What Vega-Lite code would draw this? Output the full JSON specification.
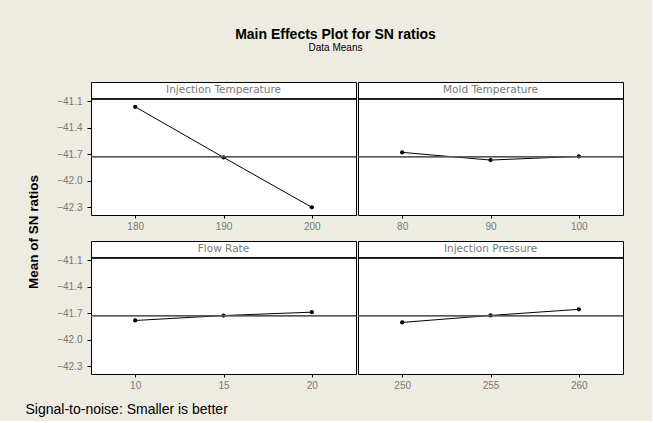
{
  "$schema": "https://vega.github.io/schema/vega-lite/v6.json",
  "background": "#EEEBE2",
  "padding": {"left": 25, "top": 27, "right": 28, "bottom": 4},
  "data": {
    "values": [
      {"factor": "Injection Temperature", "level": 180, "mean": -41.165},
      {"factor": "Injection Temperature", "level": 190, "mean": -41.738},
      {"factor": "Injection Temperature", "level": 200, "mean": -42.303},
      {"factor": "Mold Temperature", "level": 80, "mean": -41.681},
      {"factor": "Mold Temperature", "level": 90, "mean": -41.768},
      {"factor": "Mold Temperature", "level": 100, "mean": -41.726},
      {"factor": "Flow Rate", "level": 10, "mean": -41.784},
      {"factor": "Flow Rate", "level": 15, "mean": -41.728},
      {"factor": "Flow Rate", "level": 20, "mean": -41.69},
      {"factor": "Injection Pressure", "level": 250, "mean": -41.806},
      {"factor": "Injection Pressure", "level": 255, "mean": -41.727},
      {"factor": "Injection Pressure", "level": 260, "mean": -41.658}
    ]
  },
  "title": {
    "text": "Main Effects Plot for SN ratios",
    "subtitle": "Data Means",
    "anchor": "middle",
    "dx": 11,
    "font": "Liberation Sans",
    "fontSize": 14,
    "fontWeight": "bold",
    "color": "black",
    "subtitleFont": "Liberation Sans",
    "subtitleFontSize": 10,
    "subtitleColor": "black",
    "subtitlePadding": 1,
    "offset": 29
  },
  "spacing": 12,
  "vconcat": [
    {
      "spacing": 13,
      "hconcat": [
        {
          "data": {"values": [{"label": "Mean of SN ratios"}]},
          "width": 18,
          "height": 300,
          "view": {"stroke": null, "fill": null},
          "mark": {"type": "text", "angle": 270, "font": "Liberation Sans", "fontSize": 13.5, "fontWeight": "bold", "color": "black", "baseline": "middle", "align": "center"},
          "encoding": {"text": {"field": "label"}}
        },
        {
          "spacing": 8,
          "vconcat": [
            {
              "spacing": 0,
              "resolve": {"scale": {"x": "independent", "y": "independent"}},
              "hconcat": [
                {
                  "transform": [{"filter": "datum.factor === 'Injection Temperature'"}],
                  "width": 265, "height": 133,
                  "layer": [
                    {"mark": {"type": "line", "color": "black", "strokeWidth": 1},
                     "encoding": {
                       "x": {"field": "level", "type": "ordinal", "scale": {"type": "point", "padding": 0.5}, "axis": {"title": null}},
                       "y": {"field": "mean", "type": "quantitative", "scale": {"domain": [-42.39, -40.884], "nice": false, "zero": false},
                             "axis": {"title": null, "values": [-41.1, -41.4, -41.7, -42.0, -42.3], "tickCount": 10, "labelOverlap": false}}}},
                    {"mark": {"type": "point", "filled": true, "color": "black", "size": 18, "opacity": 1},
                     "encoding": {"x": {"field": "level", "type": "ordinal"}, "y": {"field": "mean", "type": "quantitative"}}},
                    {"mark": {"type": "rule", "color": "#555555", "strokeWidth": 1}, "encoding": {"y": {"datum": -41.731}}},
                    {"mark": {"type": "rule", "color": "black", "strokeWidth": 1}, "encoding": {"y": {"datum": -41.076}}},
                    {"transform": [{"aggregate": [{"op": "median", "field": "level", "as": "level"}], "groupby": ["factor"]}],
                     "mark": {"type": "text", "font": "DejaVu Sans", "fontSize": 10.5, "color": "#777777", "baseline": "middle"},
                     "encoding": {"x": {"field": "level", "type": "ordinal"}, "y": {"datum": -40.98}, "text": {"field": "factor"}}}
                  ]
                },
                {
                  "transform": [{"filter": "datum.factor === 'Mold Temperature'"}],
                  "width": 265, "height": 133,
                  "layer": [
                    {"mark": {"type": "line", "color": "black", "strokeWidth": 1},
                     "encoding": {
                       "x": {"field": "level", "type": "ordinal", "scale": {"type": "point", "padding": 0.5}, "axis": {"title": null}},
                       "y": {"field": "mean", "type": "quantitative", "scale": {"domain": [-42.39, -40.884], "nice": false, "zero": false}, "axis": null}}},
                    {"mark": {"type": "point", "filled": true, "color": "black", "size": 18, "opacity": 1},
                     "encoding": {"x": {"field": "level", "type": "ordinal"}, "y": {"field": "mean", "type": "quantitative"}}},
                    {"mark": {"type": "rule", "color": "#555555", "strokeWidth": 1}, "encoding": {"y": {"datum": -41.731}}},
                    {"mark": {"type": "rule", "color": "black", "strokeWidth": 1}, "encoding": {"y": {"datum": -41.076}}},
                    {"transform": [{"aggregate": [{"op": "median", "field": "level", "as": "level"}], "groupby": ["factor"]}],
                     "mark": {"type": "text", "font": "DejaVu Sans", "fontSize": 10.5, "color": "#777777", "baseline": "middle"},
                     "encoding": {"x": {"field": "level", "type": "ordinal"}, "y": {"datum": -40.98}, "text": {"field": "factor"}}}
                  ]
                }
              ]
            },
            {
              "spacing": 0,
              "resolve": {"scale": {"x": "independent", "y": "independent"}},
              "hconcat": [
                {
                  "transform": [{"filter": "datum.factor === 'Flow Rate'"}],
                  "width": 265, "height": 133,
                  "layer": [
                    {"mark": {"type": "line", "color": "black", "strokeWidth": 1},
                     "encoding": {
                       "x": {"field": "level", "type": "ordinal", "scale": {"type": "point", "padding": 0.5}, "axis": {"title": null}},
                       "y": {"field": "mean", "type": "quantitative", "scale": {"domain": [-42.39, -40.884], "nice": false, "zero": false},
                             "axis": {"title": null, "values": [-41.1, -41.4, -41.7, -42.0, -42.3], "tickCount": 10, "labelOverlap": false}}}},
                    {"mark": {"type": "point", "filled": true, "color": "black", "size": 18, "opacity": 1},
                     "encoding": {"x": {"field": "level", "type": "ordinal"}, "y": {"field": "mean", "type": "quantitative"}}},
                    {"mark": {"type": "rule", "color": "#555555", "strokeWidth": 1}, "encoding": {"y": {"datum": -41.731}}},
                    {"mark": {"type": "rule", "color": "black", "strokeWidth": 1}, "encoding": {"y": {"datum": -41.076}}},
                    {"transform": [{"aggregate": [{"op": "median", "field": "level", "as": "level"}], "groupby": ["factor"]}],
                     "mark": {"type": "text", "font": "DejaVu Sans", "fontSize": 10.5, "color": "#777777", "baseline": "middle"},
                     "encoding": {"x": {"field": "level", "type": "ordinal"}, "y": {"datum": -40.98}, "text": {"field": "factor"}}}
                  ]
                },
                {
                  "transform": [{"filter": "datum.factor === 'Injection Pressure'"}],
                  "width": 265, "height": 133,
                  "layer": [
                    {"mark": {"type": "line", "color": "black", "strokeWidth": 1},
                     "encoding": {
                       "x": {"field": "level", "type": "ordinal", "scale": {"type": "point", "padding": 0.5}, "axis": {"title": null}},
                       "y": {"field": "mean", "type": "quantitative", "scale": {"domain": [-42.39, -40.884], "nice": false, "zero": false}, "axis": null}}},
                    {"mark": {"type": "point", "filled": true, "color": "black", "size": 18, "opacity": 1},
                     "encoding": {"x": {"field": "level", "type": "ordinal"}, "y": {"field": "mean", "type": "quantitative"}}},
                    {"mark": {"type": "rule", "color": "#555555", "strokeWidth": 1}, "encoding": {"y": {"datum": -41.731}}},
                    {"mark": {"type": "rule", "color": "black", "strokeWidth": 1}, "encoding": {"y": {"datum": -41.076}}},
                    {"transform": [{"aggregate": [{"op": "median", "field": "level", "as": "level"}], "groupby": ["factor"]}],
                     "mark": {"type": "text", "font": "DejaVu Sans", "fontSize": 10.5, "color": "#777777", "baseline": "middle"},
                     "encoding": {"x": {"field": "level", "type": "ordinal"}, "y": {"datum": -40.98}, "text": {"field": "factor"}}}
                  ]
                }
              ]
            }
          ]
        }
      ]
    },
    {
      "data": {"values": [{"note": "Signal-to-noise: Smaller is better"}]},
      "width": 1,
      "height": 10,
      "view": {"stroke": null, "fill": null},
      "mark": {"type": "text", "font": "Liberation Sans", "fontSize": 14, "color": "black", "align": "left", "baseline": "middle"},
      "encoding": {"text": {"field": "note"}}
    }
  ],
  "config": {
    "view": {"stroke": "black", "strokeWidth": 1, "fill": "white"},
    "axisX": {
      "labelAngle": 0, "domain": false, "tickColor": "black", "tickSize": 3,
      "labelColor": "#777777", "labelFont": "Liberation Sans", "labelFontSize": 10, "labelPadding": 3
    },
    "axisY": {
      "format": ".1f", "grid": false, "domain": false,
      "labelOverlap": false, "tickColor": "black", "tickSize": 4,
      "labelColor": "#777777", "labelFont": "Liberation Sans", "labelFontSize": 10, "labelPadding": 5
    }
  }
}
